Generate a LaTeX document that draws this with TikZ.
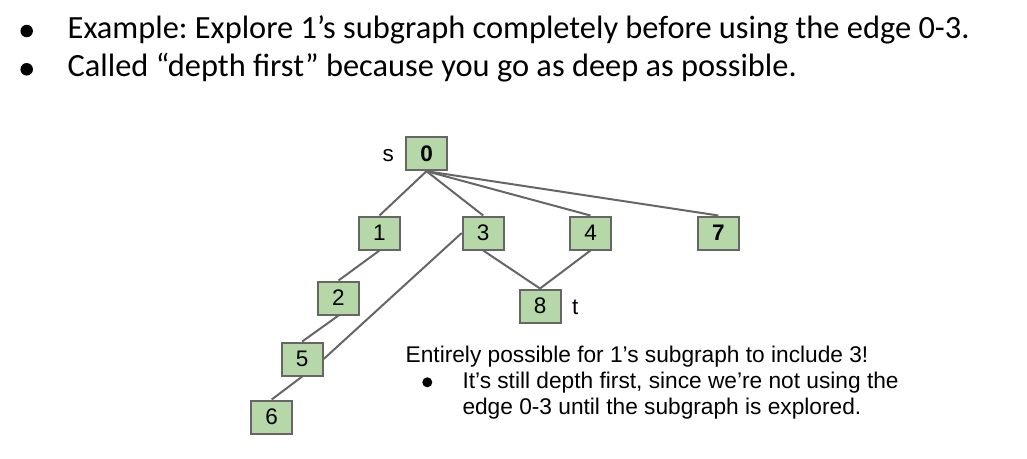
\documentclass[tikz,border=0pt]{standalone}
\usepackage{fontspec}
\setmainfont{Liberation Sans}
\newfontfamily\hdrfont{Carlito}
\frenchspacing
\definecolor{nodegreen}{HTML}{B6D7A8}
\definecolor{edgegray}{HTML}{666666}
\tikzset{
  vbox/.style={draw=edgegray, fill=nodegreen, line width=2pt, minimum width=41pt, minimum height=33pt, inner sep=0pt, font=\fontsize{22.5}{26}\selectfont},
  vlabel/.style={inner sep=0pt, anchor=base west, font=\fontsize{22.5}{26}\selectfont},
  edge/.style={draw=edgegray, line width=2pt},
  hdrtext/.style={inner sep=0pt, anchor=base west, font=\hdrfont\fontsize{32.4}{37}\selectfont},
  bodytext/.style={inner sep=0pt, anchor=base west, font=\fontsize{22.7}{26}\selectfont},
  dot/.style={circle, fill=black, inner sep=0pt}
}
\begin{document}
\begin{tikzpicture}[x=1pt,y=-1pt]
\useasboundingbox (0,0) rectangle (1027,458);
% header
\node[dot, minimum size=12.5pt] (b1) at (26.7,31) {};
\node[dot, minimum size=12.5pt] (b2) at (26.7,69.3) {};
\node[hdrtext] (h1) at (67.5,38.3) {Example: Explore 1’s subgraph completely before using the edge 0-3.};
\node[hdrtext] (h2) at (67.5,76) {Called “depth first” because you go as deep as possible.};
% graph nodes
\node[vbox] (n0) at (426.5,153.7) {\textbf{0}};
\node[vbox] (n1) at (379.5,233) {1};
\node[vbox] (n3) at (483.2,233) {3};
\node[vbox] (n4) at (590.5,233) {4};
\node[vbox] (n7) at (718.3,233) {\textbf{7}};
\node[vbox] (n2) at (338.5,298) {2};
\node[vbox] (n8) at (540,306) {8};
\node[vbox] (n5) at (302.2,359) {5};
\node[vbox] (n6) at (271.7,417) {6};
\node[vlabel] (ls) at (382.3,161.7) {s};
\node[vlabel] (lt) at (572,314) {t};
% edges
\draw[edge] (n0.south) -- (n1.north);
\draw[edge] (n0.south) -- (n3.north);
\draw[edge] (n0.south) -- (n4.north);
\draw[edge] (n0.south) -- (n7.north);
\draw[edge] (n1.south) -- (n2.north);
\draw[edge] (n2.south) -- (n5.north);
\draw[edge] (n5.south) -- (n6.north);
\draw[edge] (n3.west) -- (n5.east);
\draw[edge] (n3.south) -- (n8.north);
\draw[edge] (n4.south) -- (n8.north);
% lower text
\node[bodytext] (t1) at (405.5,362.5) {Entirely possible for 1’s subgraph to include 3!};
\node[dot, minimum size=10pt] (b3) at (427.3,382.3) {};
\node[bodytext] (t2) at (462.3,388.5) {It’s still depth first, since we’re not using the};
\node[bodytext] (t3) at (462.3,414.5) {edge 0-3 until the subgraph is explored.};
\end{tikzpicture}
\end{document}
